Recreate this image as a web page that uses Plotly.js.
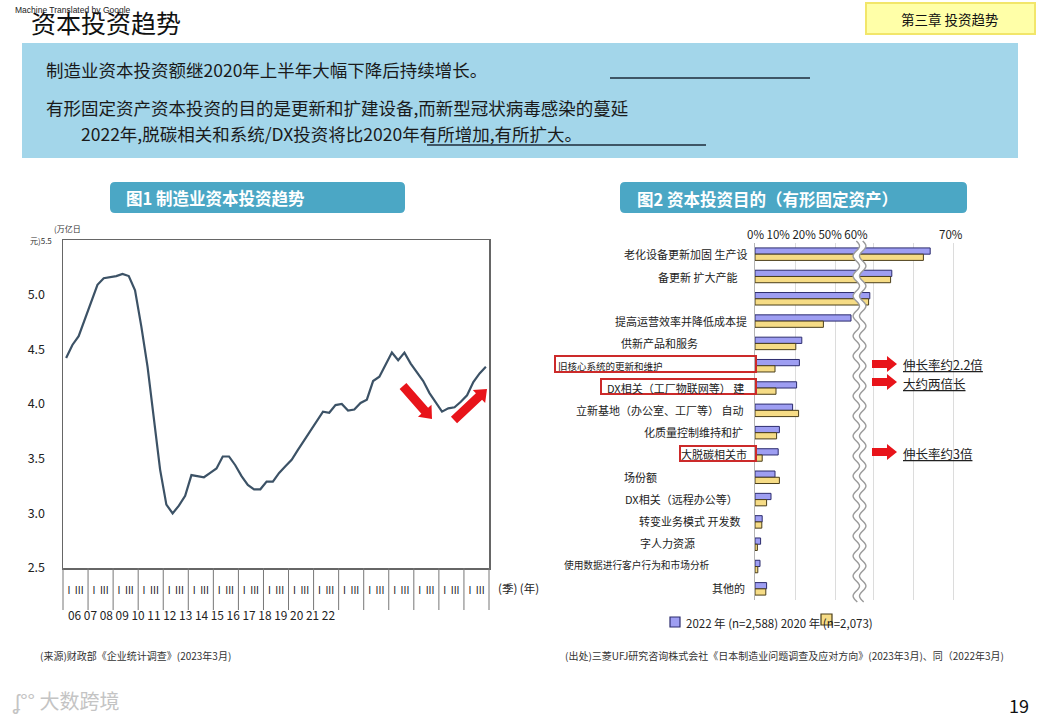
<!DOCTYPE html>
<html>
<head>
<meta charset="utf-8">
<script src="https://cdn.plot.ly/plotly-3.0.1.min.js"></script>
<style>
  html, body { margin: 0; padding: 0; background: #fff; }
  #chart { width: 1040px; height: 720px; }
</style>
</head>
<body>
<div id="chart"></div>
<script>
// ---------------- DATA ----------------
// Figure 1: manufacturing capital investment (trillion yen), quarterly 2006Q1 - 2022Q4
const years = ['06','07','08','09','10','11','12','13','14','15','16','17','18','19','20','21','22'];
const quarterMark = 'I  III';
const capex = [
  4.42, 4.54, 4.62, 4.78, 4.95, 5.09, 5.15, 5.16, 5.17, 5.19, 5.17, 5.04, 4.71, 4.34, 3.89, 3.40,
  3.08, 3.00, 3.07, 3.16, 3.35, 3.34, 3.33, 3.37, 3.41, 3.52, 3.52, 3.44, 3.34, 3.26, 3.22, 3.22,
  3.29, 3.29, 3.37, 3.43, 3.49, 3.58, 3.67, 3.76, 3.84, 3.93, 3.92, 3.99, 4.00, 3.94, 3.95, 4.01,
  4.04, 4.21, 4.25, 4.36, 4.47, 4.40, 4.47, 4.37, 4.29, 4.21, 4.10, 4.01, 3.93, 3.96, 3.97, 4.02,
  4.08, 4.20, 4.28, 4.34
];
const yTickVals = [2.5, 3.0, 3.5, 4.0, 4.5, 5.0];
const yTickText = ['2.5', '3.0', '3.5', '4.0', '4.5', '5.0'];

// Figure 2: purpose of capital investment (%), 2022 vs 2020
const purposes = [
  '老化设备更新加固 生产设',
  '备更新 扩大产能',
  '',
  '提高运营效率并降低成本提',
  '供新产品和服务',
  '旧核心系统的更新和维护',
  'DX相关（工厂物联网等） 建',
  '立新基地（办公室、工厂等） 自动',
  '化质量控制维持和扩',
  '大脱碳相关市',
  '场份额',
  'DX相关（远程办公等）',
  '转变业务模式 开发数',
  '字人力资源',
  '使用数据进行客户行为和市场分析',
  '其他的'
];
const pct2022 = [64.3, 54.7, 49.2, 24.0, 11.7, 11.1, 10.4, 9.4, 6.1, 5.8, 5.0, 4.0, 1.8, 1.4, 1.25, 2.9];
const pct2020 = [62.6, 54.4, 48.9, 17.1, 10.2, 5.0, 5.25, 10.9, 5.4, 1.8, 6.1, 2.9, 1.7, 0.6, 0.7, 2.7];
const series2022 = '2022 年 (n=2,588)';
const series2020 = '2020 年 (n=2,073)';
const axisTopLeft = '0% 10% 20% 50% 60%';
const axisTopRight = '70%';
const growthNotes = ['伸长率约2.2倍', '大约两倍长', '伸长率约3倍'];

// ---------------- LAYOUT HELPERS ----------------
const W = 1040, H = 720;
const PX = x => x / W;
const PY = y => 1 - y / H;
const FONT = '"Noto Sans CJK SC", "Noto Sans", sans-serif';

const annotations = [];
const shapes = [];
function txt(text, x, y, o = {}) {
  annotations.push(Object.assign({
    text, x: PX(x), y: PY(y), xref: 'paper', yref: 'paper',
    showarrow: false, xanchor: 'left', yanchor: 'middle'
  }, o, { font: Object.assign({ family: FONT, size: 12, color: '#222' }, o.font || {}) }));
}
function rect(x0, y0, x1, y1, fill, line, layer) {
  shapes.push({ type: 'rect', xref: 'paper', yref: 'paper', x0: PX(x0), x1: PX(x1), y0: PY(y1), y1: PY(y0),
    fillcolor: fill || 'rgba(0,0,0,0)', line: line || { width: 0 }, layer: layer || 'below' });
}
function hline(x0, x1, y, color, w) {
  shapes.push({ type: 'line', xref: 'paper', yref: 'paper', x0: PX(x0), x1: PX(x1), y0: PY(y), y1: PY(y),
    line: { color, width: w }, layer: 'above' });
}
function vline(x, y0, y1, color, w) {
  shapes.push({ type: 'line', xref: 'paper', yref: 'paper', x0: PX(x), x1: PX(x), y0: PY(y0), y1: PY(y1),
    line: { color, width: w }, layer: 'above' });
}
function polyPath(pts) {
  return pts.map((p, i) => (i ? 'L' : 'M') + PX(p[0]).toFixed(5) + ',' + PY(p[1]).toFixed(5)).join(' ') + ' Z';
}
function roundRect(x0, y0, x1, y1, r, fill) {
  const p = [
    `M${PX(x0 + r)},${PY(y0)}`, `L${PX(x1 - r)},${PY(y0)}`, `Q${PX(x1)},${PY(y0)} ${PX(x1)},${PY(y0 + r)}`,
    `L${PX(x1)},${PY(y1 - r)}`, `Q${PX(x1)},${PY(y1)} ${PX(x1 - r)},${PY(y1)}`,
    `L${PX(x0 + r)},${PY(y1)}`, `Q${PX(x0)},${PY(y1)} ${PX(x0)},${PY(y1 - r)}`,
    `L${PX(x0)},${PY(y0 + r)}`, `Q${PX(x0)},${PY(y0)} ${PX(x0 + r)},${PY(y0)}`, 'Z'
  ].join(' ');
  shapes.push({ type: 'path', xref: 'paper', yref: 'paper', path: p, fillcolor: fill, line: { width: 0 }, layer: 'below' });
}
// block arrow (decoration) from tail to head, in pixels
function blockArrow(xt, yt, xh, yh, sw, hw, hl) {
  const dx = xh - xt, dy = yh - yt, len = Math.hypot(dx, dy);
  const ux = dx / len, uy = dy / len, nx = -uy, ny = ux;
  const neckX = xh - ux * hl, neckY = yh - uy * hl;
  const pts = [
    [xt + nx * sw, yt + ny * sw], [neckX + nx * sw, neckY + ny * sw], [neckX + nx * hw, neckY + ny * hw],
    [xh, yh],
    [neckX - nx * hw, neckY - ny * hw], [neckX - nx * sw, neckY - ny * sw], [xt - nx * sw, yt - ny * sw]
  ];
  shapes.push({ type: 'path', xref: 'paper', yref: 'paper', path: polyPath(pts), fillcolor: '#e8141a',
    line: { width: 0 }, layer: 'above' });
}

// ---------------- SLIDE DECORATION ----------------
txt('资本投资趋势', 29, 22, { font: { size: 25, color: '#111' } });
txt('Machine Translated by Google', 13, 10, { font: { family: 'Liberation Sans, Arial, sans-serif', size: 8.5, color: '#222' } });
rect(866, 3, 1035, 34, '#ffffa8', { color: '#f2e66a', width: 2 });
txt('第三章 投资趋势', 950, 18.5, { xanchor: 'center', font: { size: 13.5, color: '#111' } });

rect(22, 43, 1018, 158, '#a3d6ea');
txt('制造业资本投资额继2020年上半年大幅下降后持续增长。', 44, 69, { font: { size: 17.5, color: '#1a1a1a' } });
txt('有形固定资产资本投资的目的是更新和扩建设备,而新型冠状病毒感染的蔓延', 44, 107, { font: { size: 17.5, color: '#1a1a1a' } });
txt('2022年,脱碳相关和系统/DX投资将比2020年有所增加,有所扩大。', 79, 133, { font: { size: 17.5, color: '#1a1a1a' } });
hline(610, 810, 78, '#1c2b3a', 1.5);
hline(427, 706, 145, '#1c2b3a', 1.5);

roundRect(110, 182, 405, 213, 5, '#4ba7c5');
txt('图1 制造业资本投资趋势', 124, 198, { font: { size: 16.5, color: '#ffffff', weight: 'bold' } });
roundRect(620, 182, 967, 213, 5, '#4ba7c5');
txt('图2 资本投资目的（有形固定资产）', 635, 199, { font: { size: 16.5, color: '#ffffff', weight: 'bold' } });

txt('(来源)财政部《企业统计调查》(2023年3月)', 38, 655, { font: { size: 10, color: '#333' } });
txt('(出处)三菱UFJ研究咨询株式会社《日本制造业问题调查及应对方向》(2023年3月)、同（2022年3月)', 563, 655, { font: { size: 10, color: '#333' } });
txt('ʆ°° 大数跨境', 10, 700, { font: { size: 20, color: '#c4c4c4' } });
txt('19', 1031, 705, { xanchor: 'right', font: { size: 18, color: '#111' } });

// ---------------- FIGURE 1 DECORATION ----------------
const L = { x0: 63, x1: 489, y0: 240, y1: 568 };
txt('(万亿日', 52, 228, { font: { size: 8, color: '#333' } });
txt('元)5.5', 28, 241, { font: { size: 8, color: '#333' } });
for (let k = 0; k <= years.length; k++) {
  const x = L.x0 + k * (L.x1 - L.x0) / years.length;
  vline(x, L.y1, 610, '#777', 1);
}
txt(years.join(' '), 66, 614, { font: { size: 11.9, color: '#222' } });
txt('(季) (年)', 496, 588, { font: { size: 11.5, color: '#222' } });
blockArrow(403, 386, 432, 419, 4.5, 9, 11);
blockArrow(454, 420, 487, 389, 4.5, 9, 11);

// ---------------- FIGURE 2 DECORATION ----------------
txt(axisTopLeft, 745, 234, { font: { size: 11.5, color: '#222' } });
txt(axisTopRight, 937, 234, { font: { size: 11.5, color: '#222' } });
const labelEnd = [749, 739, 749, 749, 700, 665, 746, 745, 745, 749, 659, 740, 742, 697, 712, 747];
const labelSize = [11, 11, 11, 11, 11, 9.5, 11, 11, 11, 11, 11, 11, 11, 11, 9.7, 11];
const rowTop = 254, rowStep = 22.2;
purposes.forEach((p, i) => {
  if (p) txt(p, labelEnd[i], rowTop + i * rowStep + 0.5, { xanchor: 'right', font: { size: labelSize[i], color: '#222' } });
});
const redLine = { color: '#cc2a2a', width: 2 };
rect(555, 356, 756, 372, null, redLine, 'above');
rect(601, 379, 756, 394, null, redLine, 'above');
rect(680, 446, 756, 461, null, redLine, 'above');
blockArrow(872, 364, 897, 364, 4, 8, 10);
blockArrow(872, 382, 897, 382, 4, 8, 10);
blockArrow(872, 452, 897, 452, 4, 8, 10);
txt('<u>' + growthNotes[0] + '</u>', 901, 364, { font: { size: 12.5, color: '#222' } });
txt('<u>' + growthNotes[1] + '</u>', 901, 383, { font: { size: 12.5, color: '#222' } });
txt('<u>' + growthNotes[2] + '</u>', 901, 453, { font: { size: 12.5, color: '#222' } });
// legend
rect(670, 617, 680, 627, '#9e9ef2', { color: '#2c2c6e', width: 1.2 });
txt(series2022 + ' ' + series2020, 684, 623, { font: { size: 11.5, color: '#222' } });
rect(821, 614, 832, 625, '#f6dc86', { color: '#4a3e1a', width: 1.2 }, 'above');

// wavy axis break
(function () {
  const yA = 241, yB = 602, cx = 859.5, half = 3.2, amp = 3.2, lam = 20;
  const left = [], right = [];
  for (let y = yA; y <= yB; y += 1) {
    const off = amp * Math.sin(2 * Math.PI * (y - yA) / lam);
    left.push([cx - half + off, y]);
    right.push([cx + half + off, y]);
  }
  const toPath = pts => pts.map((p, i) => (i ? 'L' : 'M') + PX(p[0]).toFixed(5) + ',' + PY(p[1]).toFixed(5)).join(' ');
  const band = polyPath(left.concat(right.slice().reverse()));
  shapes.push({ type: 'path', xref: 'paper', yref: 'paper', path: band, fillcolor: '#ffffff', line: { width: 0 }, layer: 'above' });
  shapes.push({ type: 'path', xref: 'paper', yref: 'paper', path: toPath(left), line: { color: '#9a9a9a', width: 1.4 }, layer: 'above' });
  shapes.push({ type: 'path', xref: 'paper', yref: 'paper', path: toPath(right), line: { color: '#9a9a9a', width: 1.4 }, layer: 'above' });
})();

// ---------------- TRACES ----------------
const quarterIdx = capex.map((_, i) => i);
const yearCenters = years.map((_, k) => k * 4 + 1.5);
const rowIdx = purposes.map((_, i) => i);

const bar2022 = { type: 'bar', orientation: 'h', y: rowIdx, x: pct2022, name: series2022,
  marker: { color: '#9e9ef2', line: { color: '#2c2c6e', width: 1 } }, offsetgroup: 'a' };
const bar2020 = { type: 'bar', orientation: 'h', y: rowIdx, x: pct2020, name: series2020,
  marker: { color: '#f6dc86', line: { color: '#4a3e1a', width: 1 } }, offsetgroup: 'b' };

const traces = [
  { type: 'scatter', mode: 'lines', x: quarterIdx, y: capex, xaxis: 'x', yaxis: 'y',
    line: { color: '#3c5266', width: 2.2 }, showlegend: false },
  Object.assign({}, bar2022, { xaxis: 'x2', yaxis: 'y2', showlegend: false }),
  Object.assign({}, bar2020, { xaxis: 'x2', yaxis: 'y2', showlegend: false }),
  Object.assign({}, bar2022, { xaxis: 'x3', yaxis: 'y2', showlegend: false }),
  Object.assign({}, bar2020, { xaxis: 'x3', yaxis: 'y2', showlegend: false })
];

const layout = {
  width: W, height: H,
  margin: { l: 0, r: 0, t: 0, b: 0 },
  paper_bgcolor: '#ffffff', plot_bgcolor: 'rgba(0,0,0,0)',
  font: { family: FONT },
  showlegend: false,
  barmode: 'group', bargap: 0.44, bargroupgap: 0,
  xaxis: {
    domain: [PX(L.x0), PX(L.x1)], range: [-0.5, 67.5], anchor: 'y',
    showgrid: false, zeroline: false, showline: true, mirror: true, linecolor: '#666', linewidth: 1.5,
    tickmode: 'array', tickvals: yearCenters, ticktext: years.map(() => quarterMark),
    ticks: '', ticklabelstandoff: 12, tickfont: { family: FONT, size: 10, color: '#222' }
  },
  yaxis: {
    domain: [PY(L.y1), PY(L.y0)], range: [2.5, 5.5], anchor: 'x',
    showgrid: false, zeroline: false, showline: true, mirror: true, linecolor: '#666', linewidth: 1.5,
    tickmode: 'array', tickvals: yTickVals, ticktext: yTickText,
    ticks: '', ticklabelstandoff: 14, tickfont: { family: FONT, size: 12.5, color: '#222' }
  },
  xaxis2: {
    domain: [PX(755), PX(857)], range: [0, 25.5], anchor: 'y2',
    showgrid: true, gridcolor: '#dcdcdc', gridwidth: 1, zeroline: false, showline: false,
    tickmode: 'array', tickvals: [10, 20], showticklabels: false, ticks: ''
  },
  xaxis3: {
    domain: [PX(857), PX(960)], range: [46, 71.75], anchor: 'y2',
    showgrid: true, gridcolor: '#dcdcdc', gridwidth: 1, zeroline: false, showline: false,
    tickmode: 'array', tickvals: [50, 60, 70], showticklabels: false, ticks: ''
  },
  yaxis2: {
    domain: [PY(600), PY(243)], range: [15.5, -0.5], anchor: 'x2',
    showgrid: false, zeroline: false, showline: true, linecolor: '#b5b5b5', linewidth: 1,
    showticklabels: false, ticks: ''
  },
  shapes, annotations
};

Plotly.newPlot('chart', traces, layout, { staticPlot: true, displayModeBar: false });
</script>
</body>
</html>
